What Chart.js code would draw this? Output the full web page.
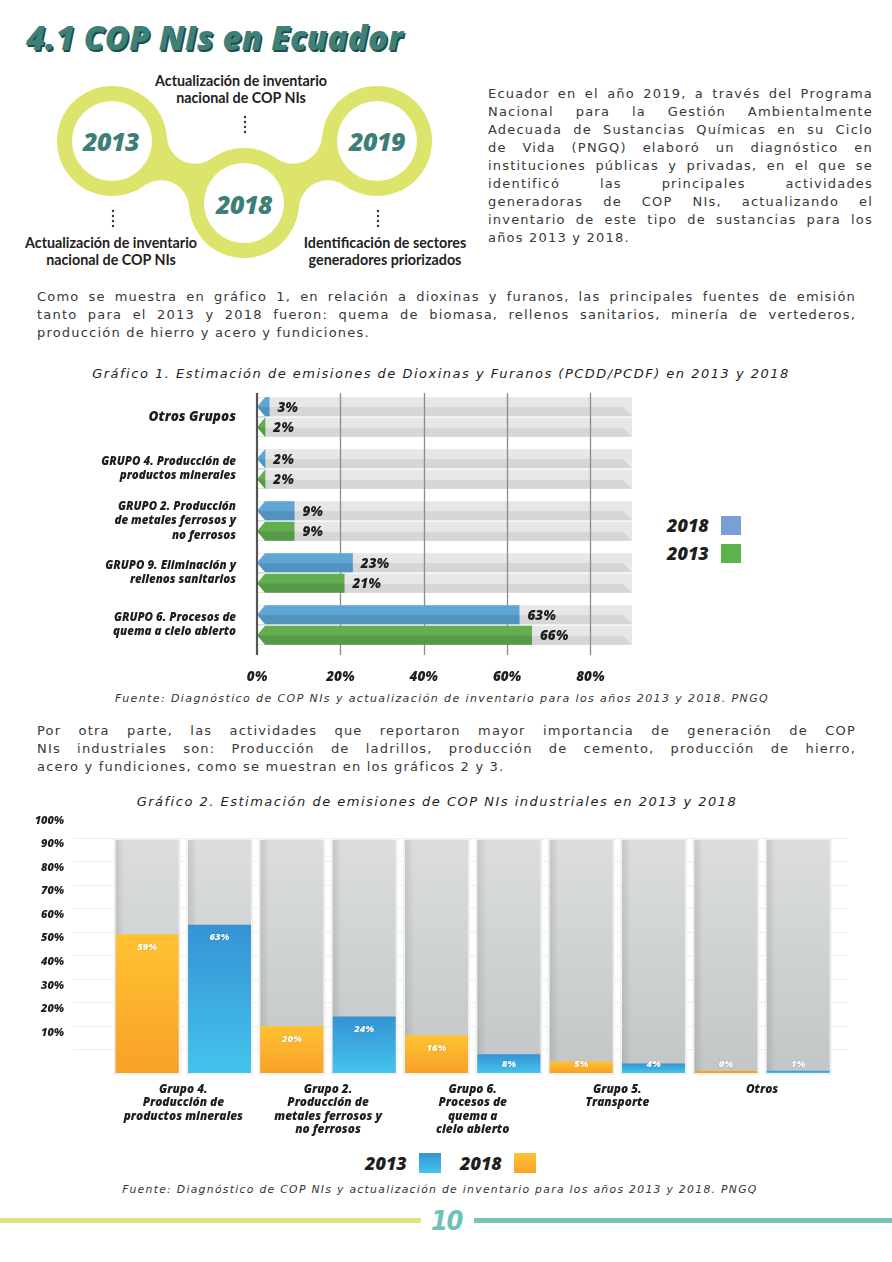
<!DOCTYPE html>
<html><head><meta charset="utf-8">
<script src="https://cdn.jsdelivr.net/npm/chart.js@4.4.1/dist/chart.umd.min.js"></script>
<style>
html,body{margin:0;padding:0;background:#fff;}
#page{position:relative;width:892px;height:1262px;overflow:hidden;font-family:"DejaVu Sans",sans-serif;}
.abs{position:absolute;}
.h1{left:26px;top:17px;font-family:"Open Sans",Lato,sans-serif;font-weight:800;font-style:italic;font-size:33px;line-height:42px;color:#3d8077;text-shadow:1.5px 1.5px 0 #1f4d47;white-space:nowrap;letter-spacing:0.2px;}
.tl{font-family:Lato,sans-serif;font-weight:700;font-size:14.3px;color:#222;text-align:center;line-height:17px;white-space:nowrap;transform:translateX(-50%);}
.year{font-family:"Open Sans",Lato,sans-serif;font-weight:800;font-style:italic;font-size:25px;line-height:28px;color:#3b7f76;transform:translate(-50%,-50%);white-space:nowrap;letter-spacing:-0.5px;}
.para{font-size:13px;color:#383838;letter-spacing:1.2px;line-height:18px;}
.para div{text-align:justify;text-align-last:justify;}
.para div.last{text-align:left;text-align-last:left;}
.ctitle{left:0;width:882px;text-align:center;font-style:italic;font-size:13px;letter-spacing:1.5px;color:#1e1e1e;line-height:16px;white-space:nowrap;}
.src{left:0;width:884px;text-align:center;font-style:italic;font-size:11px;letter-spacing:1.4px;color:#333;line-height:14px;white-space:nowrap;}
.leg{font-family:"Open Sans",Lato,sans-serif;font-weight:800;font-style:italic;font-size:18px;color:#1e1e1e;line-height:22px;white-space:nowrap;}
.sq{position:absolute;}
canvas{position:absolute;}
</style>
</head><body>
<div id="page">
<svg class="abs" style="left:0;top:0" width="470" height="280">
  <g fill="#dde46c">
    <circle cx="112" cy="141" r="55"/>
    <circle cx="244" cy="203" r="55"/>
    <circle cx="377" cy="141" r="55"/>
    <polygon points="100.1,166.3 123.9,115.7 255.9,177.7 232.1,228.3"/>
    <polygon points="255.8,228.4 232.2,177.6 365.2,115.6 388.8,166.4"/>
  </g>
  <g fill="#fff">
    <circle cx="160.9" cy="208.5" r="28.3"/>
    <circle cx="195.1" cy="135.5" r="28.3"/>
    <circle cx="327.9" cy="209.3" r="29.1"/>
    <circle cx="293.1" cy="134.7" r="29.1"/>
    <circle cx="112" cy="141" r="40"/>
    <circle cx="244" cy="203" r="40"/>
    <circle cx="377" cy="141" r="40"/>
  </g>
  <g fill="#333">
    <circle cx="245" cy="117" r="1.2"/><circle cx="245" cy="122" r="1.2"/><circle cx="245" cy="127" r="1.2"/><circle cx="245" cy="132" r="1.2"/>
    <circle cx="113" cy="211" r="1.2"/><circle cx="113" cy="216" r="1.2"/><circle cx="113" cy="221" r="1.2"/><circle cx="113" cy="226" r="1.2"/>
    <circle cx="378" cy="211" r="1.2"/><circle cx="378" cy="216" r="1.2"/><circle cx="378" cy="221" r="1.2"/><circle cx="378" cy="226" r="1.2"/>
  </g>
</svg>
<div class="abs h1">4.1 COP NIs en Ecuador</div>
<div class="abs year" style="left:111px;top:141px">2013</div>
<div class="abs year" style="left:244px;top:204px">2018</div>
<div class="abs year" style="left:377px;top:141px">2019</div>
<div class="abs tl" style="left:241px;top:72px">Actualización de inventario<br>nacional de COP NIs</div>
<div class="abs tl" style="left:111px;top:234px">Actualización de inventario<br>nacional de COP NIs</div>
<div class="abs tl" style="left:385px;top:234px">Identificación de sectores<br>generadores priorizados</div>

<div class="abs para" style="left:488px;top:85px;width:385px">
<div>Ecuador en el año 2019, a través del Programa</div>
<div>Nacional para la Gestión Ambientalmente</div>
<div>Adecuada de Sustancias Químicas en su Ciclo</div>
<div>de Vida (PNGQ) elaboró un diagnóstico en</div>
<div>instituciones públicas y privadas, en el que se</div>
<div>identificó las principales actividades</div>
<div>generadoras de COP NIs, actualizando el</div>
<div>inventario de este tipo de sustancias para los</div>
<div class="last">años 2013 y 2018.</div>
</div>

<div class="abs para" style="left:37px;top:288px;width:819px">
<div>Como se muestra en gráfico 1, en relación a dioxinas y furanos, las principales fuentes de emisión</div>
<div>tanto para el 2013 y 2018 fueron: quema de biomasa, rellenos sanitarios, minería de vertederos,</div>
<div class="last">producción de hierro y acero y fundiciones.</div>
</div>

<div class="abs ctitle" style="top:366px">Gráfico 1. Estimación de emisiones de Dioxinas y Furanos (PCDD/PCDF) en 2013 y 2018</div>
<canvas id="c1" width="660" height="305" style="left:0;top:385px"></canvas>
<div class="abs leg" style="left:667px;top:514px">2018</div>
<div class="sq" style="left:721px;top:516px;width:20px;height:19px;background:#7a9ed6"></div>
<div class="abs leg" style="left:667px;top:542px">2013</div>
<div class="sq" style="left:721px;top:544px;width:20px;height:19px;background:#5cb34b"></div>
<div class="abs src" style="top:692px">Fuente: Diagnóstico de COP NIs y actualización de inventario para los años 2013 y 2018. PNGQ</div>

<div class="abs para" style="left:37px;top:722px;width:819px">
<div>Por otra parte, las actividades que reportaron mayor importancia de generación de COP</div>
<div>NIs industriales son: Producción de ladrillos, producción de cemento, producción de hierro,</div>
<div class="last">acero y fundiciones, como se muestran en los gráficos 2 y 3.</div>
</div>

<div class="abs ctitle" style="top:794px;width:874px">Gráfico 2. Estimación de emisiones de COP NIs industriales en 2013 y 2018</div>
<canvas id="c2" width="892" height="333" style="left:0;top:810px"></canvas>
<div class="abs leg" style="left:365px;top:1152px">2013</div>
<div class="sq" style="left:419px;top:1153px;width:22px;height:20px;background:linear-gradient(#3593d4,#45c4ec)"></div>
<div class="abs leg" style="left:460px;top:1152px">2018</div>
<div class="sq" style="left:514px;top:1153px;width:22px;height:20px;background:linear-gradient(#ffc434,#f9a22a)"></div>
<div class="abs src" style="top:1183px;width:880px;font-size:10.8px;letter-spacing:1.3px">Fuente: Diagnóstico de COP NIs y actualización de inventario para los años 2013 y 2018. PNGQ</div>

<div class="abs" style="left:0;top:1218px;width:421px;height:5px;background:#dfe47d"></div>
<div class="abs" style="left:474px;top:1218px;width:418px;height:5px;background:#77c4b7"></div>
<div class="abs" style="left:431px;top:1204px;font-family:'DejaVu Sans Condensed','DejaVu Sans',sans-serif;font-weight:bold;font-style:italic;font-size:27px;line-height:34px;color:#6cc2b3;letter-spacing:-1.5px">10</div>
</div>

<script>
// ---------- Gráfico 1 data ----------
const g1Categories = [
  ['Otros Grupos'],
  ['GRUPO 4. Producción de', 'productos minerales'],
  ['GRUPO 2. Producción', 'de metales ferrosos y', 'no ferrosos'],
  ['GRUPO 9. Eliminación y', 'rellenos sanitarios'],
  ['GRUPO 6. Procesos de', 'quema a cielo abierto']
];
const g1Series2018 = [3, 2, 9, 23, 63];
const g1Series2013 = [2, 2, 9, 21, 66];
const g1TickValues = [0, 20, 40, 60, 80];
const g1AxisMax = 90;

// ---------- Gráfico 2 data ----------
const g2Categories = [
  ['Grupo 4.', 'Producción de', 'productos minerales'],
  ['Grupo 2.', 'Producción de', 'metales ferrosos y', 'no ferrosos'],
  ['Grupo 6.', 'Procesos de', 'quema a', 'cielo abierto'],
  ['Grupo 5.', 'Transporte'],
  ['Otros']
];
const g2Series2018 = [59, 20, 16, 5, 0];
const g2Series2013 = [63, 24, 8, 4, 1];
const g2TickValues = [0, 10, 20, 30, 40, 50, 60, 70, 80, 90, 100];
const g2TrackTop = 99;

const HEAVY = '"Open Sans", Lato, sans-serif';
function noPad(s) { s.paddingTop = 0; s.paddingBottom = 0; s.paddingLeft = 0; s.paddingRight = 0; }

const g1Deco = {
  id: 'g1Deco',
  beforeDatasetsDraw(chart) {
    const {ctx, chartArea: a, scales: {x}} = chart;
    ctx.save();
    chart.data.datasets.forEach((ds, di) => {
      chart.getDatasetMeta(di).data.forEach(el => {
        const h = el.height, top = el.y - h / 2, y1 = top + h * 0.52, y2 = top + h;
        ctx.fillStyle = '#e7e7e7';
        ctx.fillRect(a.left, top, a.right - a.left, h);
        ctx.fillStyle = '#d6d6d6';
        ctx.beginPath();
        ctx.moveTo(a.left, y1); ctx.lineTo(a.right - 9, y1); ctx.lineTo(a.right, y2); ctx.lineTo(a.left, y2);
        ctx.closePath(); ctx.fill();
      });
    });
    ctx.strokeStyle = '#8c8c8c'; ctx.lineWidth = 1.3;
    g1TickValues.filter(v => v > 0).forEach(v => {
      const px = Math.round(x.getPixelForValue(v)) + 0.5;
      ctx.beginPath(); ctx.moveTo(px, a.top + 2); ctx.lineTo(px, a.bottom + 4); ctx.stroke();
    });
    ctx.restore();
  },
  afterDatasetsDraw(chart) {
    const {ctx, chartArea: a, scales: {x}} = chart;
    ctx.save();
    chart.data.datasets.forEach((ds, di) => {
      chart.getDatasetMeta(di).data.forEach((el, i) => {
        const h = el.height, top = el.y - h / 2;
        ctx.fillStyle = 'rgba(10,30,40,0.14)';
        ctx.fillRect(el.base, top + h * 0.52, el.x - el.base, h * 0.48);
        ctx.fillStyle = '#ffffff';
        ctx.beginPath(); ctx.moveTo(el.base, top); ctx.lineTo(el.base + 8, top); ctx.lineTo(el.base, el.y); ctx.closePath(); ctx.fill();
        ctx.beginPath(); ctx.moveTo(el.base, top + h); ctx.lineTo(el.base + 8, top + h); ctx.lineTo(el.base, el.y); ctx.closePath(); ctx.fill();
        ctx.fillStyle = '#1e1e1e';
        ctx.font = 'italic 800 13.5px ' + HEAVY;
        ctx.textAlign = 'left'; ctx.textBaseline = 'middle';
        ctx.fillText(ds.data[i] + '%', el.x + 8, el.y + 1);
      });
    });
    const px0 = x.getPixelForValue(0);
    ctx.strokeStyle = '#555'; ctx.lineWidth = 2.2;
    ctx.beginPath(); ctx.moveTo(px0, a.top + 2); ctx.lineTo(px0, a.bottom + 4); ctx.stroke();
    ctx.restore();
  }
};

new Chart(document.getElementById('c1'), {
  type: 'bar',
  data: {
    labels: g1Categories,
    datasets: [
      {label: '2018', data: g1Series2018, backgroundColor: '#5fa6d7', categoryPercentage: 0.79, barPercentage: 0.93},
      {label: '2013', data: g1Series2013, backgroundColor: '#63ae4e', categoryPercentage: 0.79, barPercentage: 0.93}
    ]
  },
  options: {
    indexAxis: 'y', responsive: false, animation: false, devicePixelRatio: 1,
    layout: {padding: {left: 0, right: 28, top: 6, bottom: 0}},
    plugins: {legend: {display: false}, tooltip: {enabled: false}},
    scales: {
      x: {
        type: 'linear', min: 0, max: g1AxisMax,
        afterBuildTicks: s => { s.ticks = g1TickValues.map(v => ({value: v})); },
        afterFit: s => { s.height = 39; noPad(s); },
        grid: {display: false, drawTicks: false}, border: {display: false},
        ticks: {padding: 18, color: '#1e1e1e', font: {family: HEAVY, size: 13.5, weight: '800', style: 'italic'}, callback: v => v + '%'}
      },
      y: {
        afterFit: s => { s.width = 257; noPad(s); },
        grid: {display: false, drawTicks: false}, border: {display: false},
        ticks: {padding: 21, color: '#1e1e1e', autoSkip: false,
          font: c => ({family: HEAVY, size: c.index === 0 ? 13.5 : 11.5, weight: '800', style: 'italic', lineHeight: 1.25})}
      }
    }
  },
  plugins: [g1Deco]
});

const g2Colors = [['#ffc232', '#f8a128'], ['#3593d4', '#44c3ec']];
function g2Fill(c) {
  const pair = g2Colors[c.datasetIndex];
  const ys = c.chart.scales && c.chart.scales.y;
  if (!ys || c.type !== 'data') return pair[0];
  const y0 = ys.getPixelForValue(0), y1 = ys.getPixelForValue(c.raw);
  if (!isFinite(y0) || !isFinite(y1) || Math.abs(y0 - y1) < 1) return pair[1];
  const g = c.chart.ctx.createLinearGradient(0, y1, 0, y0);
  g.addColorStop(0, pair[0]); g.addColorStop(1, pair[1]);
  return g;
}

const g2Deco = {
  id: 'g2Deco',
  beforeDatasetsDraw(chart) {
    const {ctx, scales: {y}} = chart;
    ctx.save();
    ctx.strokeStyle = '#ededed'; ctx.lineWidth = 1;
    g2TickValues.filter(v => v > 0).forEach(v => {
      const py = Math.round(y.getPixelForValue(v)) + 0.5;
      ctx.beginPath(); ctx.moveTo(73, py); ctx.lineTo(848, py); ctx.stroke();
    });
    const top = y.getPixelForValue(g2TrackTop);
    chart.data.datasets.forEach((ds, di) => {
      chart.getDatasetMeta(di).data.forEach(el => {
        const x0 = el.x - el.width / 2, w = el.width, b = el.base;
        ctx.fillStyle = '#f0f0f0';
        ctx.fillRect(x0 - 2, top - 2, w + 4, b - top + 4);
        const g = ctx.createLinearGradient(0, top, 0, b);
        g.addColorStop(0, '#dcdede'); g.addColorStop(1, '#c2c6c6');
        ctx.fillStyle = g;
        ctx.fillRect(x0, top, w, b - top);
        const gl = ctx.createLinearGradient(x0, 0, x0 + 9, 0);
        gl.addColorStop(0, 'rgba(0,0,0,0.10)'); gl.addColorStop(1, 'rgba(0,0,0,0)');
        ctx.fillStyle = gl;
        ctx.fillRect(x0, top, 9, b - top);
      });
    });
    ctx.restore();
  },
  afterDatasetsDraw(chart) {
    const {ctx} = chart;
    ctx.save();
    ctx.font = 'italic 800 9.5px ' + HEAVY;
    ctx.textAlign = 'center'; ctx.textBaseline = 'middle';
    ctx.fillStyle = '#ffffff';
    ctx.shadowColor = 'rgba(0,0,0,0.25)'; ctx.shadowBlur = 1.5;
    chart.data.datasets.forEach((ds, di) => {
      chart.getDatasetMeta(di).data.forEach((el, i) => {
        const ty = Math.min(el.y + 13, el.base - 9);
        ctx.fillText(ds.data[i] + '%', el.x, ty);
      });
    });
    ctx.restore();
  }
};

new Chart(document.getElementById('c2'), {
  type: 'bar',
  data: {
    labels: g2Categories,
    datasets: [
      {label: '2018', data: g2Series2018, backgroundColor: g2Fill, categoryPercentage: 1, barPercentage: 0.87, minBarLength: 2},
      {label: '2013', data: g2Series2013, backgroundColor: g2Fill, categoryPercentage: 1, barPercentage: 0.87, minBarLength: 2}
    ]
  },
  options: {
    responsive: false, animation: false, devicePixelRatio: 1,
    layout: {padding: {left: 0, right: 57.6, top: 27.7, bottom: 0}},
    plugins: {legend: {display: false}, tooltip: {enabled: false}},
    scales: {
      x: {
        afterFit: s => { s.height = 70; noPad(s); },
        grid: {display: false, drawTicks: false}, border: {display: false},
        ticks: {padding: 10, autoSkip: false, maxRotation: 0, color: '#1e1e1e',
          font: {family: HEAVY, size: 11.8, weight: '800', style: 'italic', lineHeight: 1.13}}
      },
      y: {
        min: 0, max: 100,
        afterBuildTicks: s => { s.ticks = g2TickValues.map(v => ({value: v})); },
        afterFit: s => { s.width = 111; noPad(s); },
        grid: {display: false, drawTicks: false}, border: {display: false},
        ticks: {padding: 47, labelOffset: -17, color: '#1e1e1e',
          font: {family: HEAVY, size: 11, weight: '800', style: 'italic'},
          callback: v => v === 0 ? '' : v + '%'}
      }
    }
  },
  plugins: [g2Deco]
});
</script>
</body></html>
